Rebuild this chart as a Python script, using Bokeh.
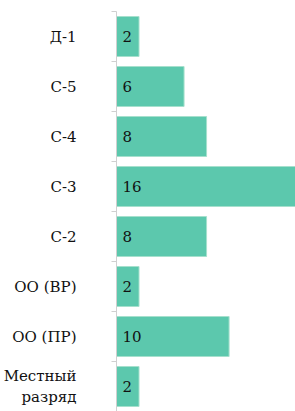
from bokeh.plotting import figure
from bokeh.models import Range1d, FixedTicker, ColumnDataSource
from bokeh.core.properties import value
from bokeh.embed import file_html
from bokeh.resources import INLINE

categories = ["Д-1", "С-5", "С-4", "С-3", "С-2", "ОО (ВР)", "ОО (ПР)", "Местный\nразряд"]
values = [2, 6, 8, 16, 8, 2, 10, 2]

FONT = "DejaVu Serif"

n = len(categories)
ypos = [n - i - 0.5 for i in range(n)]

src = ColumnDataSource(dict(y=ypos, v=values, t=[str(v) for v in values], x0=[0] * n))

p = figure(width=295, height=411, output_backend="svg", toolbar_location=None,
           x_range=Range1d(0, 15.9), y_range=Range1d(0, n),
           min_border_left=112, min_border_top=11, min_border_bottom=0, min_border_right=0)
p.outline_line_color = None
p.grid.grid_line_color = None
p.xaxis.visible = False

p.hbar(y="y", left=0, right="v", height=0.8, source=src,
       fill_color="#5CC8AD", line_color="#A6E0CD", line_width=1)
p.text(x="x0", y="y", text="t", source=src, x_offset=6,
       text_align="left", text_baseline="middle",
       text_font=value(FONT), text_font_size="15px", text_color="#111111")

ax = p.yaxis[0]
ax.ticker = FixedTicker(ticks=ypos, minor_ticks=list(range(n + 1)))
ax.major_label_overrides = {y: c for y, c in zip(ypos, categories)}
ax.major_tick_line_color = None
ax.major_tick_out = 0
ax.major_tick_in = 0
ax.minor_tick_out = 5
ax.minor_tick_in = 0
ax.minor_tick_line_color = "#D0D0D0"
ax.axis_line_color = "#D0D0D0"
ax.major_label_standoff = 35
ax.major_label_text_font = FONT
ax.major_label_text_font_size = "15px"
ax.major_label_text_color = "#111111"
ax.major_label_text_align = "right"

open("out.html", "w").write(file_html(p, INLINE))
